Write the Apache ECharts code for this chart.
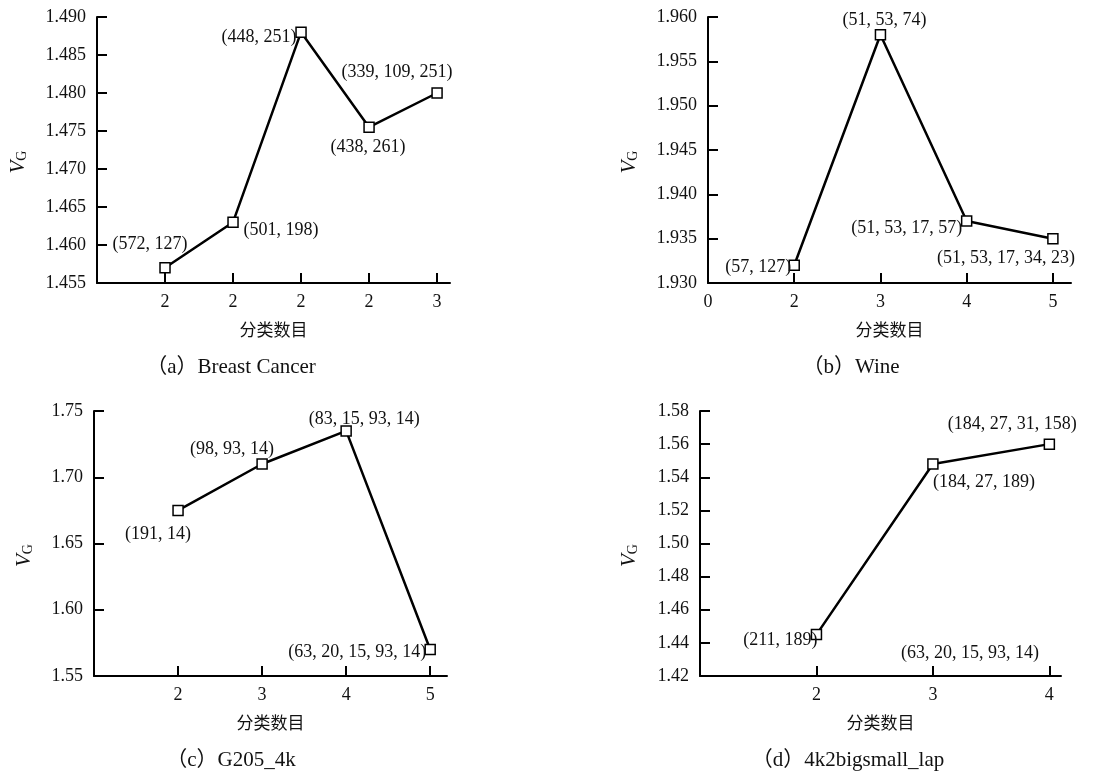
<!DOCTYPE html>
<html>
<head>
<meta charset="utf-8">
<script src="https://cdn.jsdelivr.net/npm/echarts@6/dist/echarts.min.js"></script>
<style>
  html, body { margin: 0; padding: 0; background: #fff; }
  #main { width: 1107px; height: 774px; }
</style>
</head>
<body>
<div id="main"></div>
<script>
// (a) Breast Cancer
var catA = ['2', '2', '2', '2', '3'];
var valA = [1.457, 1.463, 1.488, 1.4755, 1.480];
var lblA = ['(572, 127)', '(501, 198)', '(448, 251)', '(438, 261)', '(339, 109, 251)'];

// (b) Wine  (tick labels on index positions 0..4)
var catB = ['0', '2', '3', '4', '5'];
var valB = [1.932, 1.958, 1.937, 1.935];
var lblB = ['(57, 127)', '(51, 53, 74)', '(51, 53, 17, 57)', '(51, 53, 17, 34, 23)'];

// (c) G205_4k
var xC = [2, 3, 4, 5];
var valC = [1.675, 1.71, 1.735, 1.57];
var lblC = ['(191, 14)', '(98, 93, 14)', '(83, 15, 93, 14)', '(63, 20, 15, 93, 14)'];

// (d) 4k2bigsmall_lap
var xD = [2, 3, 4];
var valD = [1.445, 1.548, 1.56];
var lblD = ['(211, 189)', '(184, 27, 189)', '(184, 27, 31, 158)'];
var strayD = '(63, 20, 15, 93, 14)';

var captions = ['（a）Breast Cancer', '（b）Wine', '（c）G205_4k', '（d）4k2bigsmall_lap'];

// label offsets (pixels, relative to point)
var offA = [[-15, -24], [48, 8], [-42, 5], [-1, 20], [-40, -21]];
var offB = [[-36, 2], [4, -14], [-60, 7], [-47, 20]];
var offC = [[-20, 24], [-30, -15], [18, -12], [-73, 3]];
var offD = [[-36, 6], [51, 18], [-37, -20]];

var SERIF = "'Liberation Serif', 'Times New Roman', serif";
var CJK = "'Noto Sans CJK SC', sans-serif";

var myChart = echarts.init(document.getElementById('main'));

function makeData(xs, ys, labels, offs) {
	return ys.map(function(v, i) {
		return {
			value: [xs[i], v],
			label: { show: true, formatter: labels[i], offset: offs[i] }
		};
	});
}

function idx(n, start) {
	var out = [];
	for (var i = 0; i < n; i++) out.push(start + i);
	return out;
}

var grids = [
	{ left: 97, top: 17, width: 353, height: 266 },
	{ left: 708, top: 17, width: 363, height: 266 },
	{ left: 94, top: 411, width: 353, height: 265 },
	{ left: 700, top: 411, width: 361, height: 265 }
];

function xAxisOf(i, min, max, ticks, fmt) {
	return {
		type: 'value', gridIndex: i, min: min, max: max,
		name: '分类数目', nameLocation: 'middle', nameGap: 38,
		nameTextStyle: { fontFamily: CJK, fontSize: 17, color: '#111' },
		axisLine: { onZero: false, lineStyle: { color: '#000', width: 2 } },
		axisTick: { inside: true, length: 10, customValues: ticks, lineStyle: { color: '#000', width: 2 } },
		axisLabel: { customValues: ticks, formatter: fmt, margin: 10, fontFamily: SERIF, fontSize: 18, color: '#111' },
		splitLine: { show: false }
	};
}

function yAxisOf(i, min, max, interval, dec, gap) {
	return {
		type: 'value', gridIndex: i, min: min, max: max, interval: interval,
		name: '{v|V}{g|G}', nameLocation: 'middle', nameGap: gap, nameRotate: 90,
		nameTextStyle: {
			padding: [0, 24, 0, 0],
			rich: {
				v: { fontFamily: SERIF, fontStyle: 'italic', fontSize: 21, color: '#111' },
				g: { fontFamily: SERIF, fontSize: 14, color: '#111', padding: [8, 0, 0, 0] }
			}
		},
		axisLine: { lineStyle: { color: '#000', width: 2 } },
		axisTick: { inside: true, length: 10, lineStyle: { color: '#000', width: 2 } },
		axisLabel: {
			margin: 11, fontFamily: SERIF, fontSize: 18, color: '#111',
			formatter: function(v) { return v.toFixed(dec); }
		},
		splitLine: { show: false }
	};
}

function lineSeries(i, data) {
	return {
		type: 'line', xAxisIndex: i, yAxisIndex: i, data: data,
		symbol: 'rect', symbolSize: 10,
		lineStyle: { color: '#000', width: 2.5 },
		itemStyle: { color: '#fff', borderColor: '#000', borderWidth: 1.5 },
		label: { position: 'inside', fontFamily: SERIF, fontSize: 18, color: '#111' },
		emphasis: { disabled: true },
		z: 3
	};
}

var captionPos = [[231, 367], [851, 367], [231, 760], [848, 760]];

var option = {
	backgroundColor: '#fff',
	animation: false,
	grid: grids,
	xAxis: [
		xAxisOf(0, 0, 5.19, idx(5, 1), function(v) { return catA[v - 1]; }),
		xAxisOf(1, 0, 4.21, idx(5, 0), function(v) { return catB[v]; }),
		xAxisOf(2, 1, 5.2, xC, function(v) { return String(v); }),
		xAxisOf(3, 1, 4.1, xD, function(v) { return String(v); })
	],
	yAxis: [
		yAxisOf(0, 1.455, 1.490, 0.005, 3, 68),
		yAxisOf(1, 1.930, 1.960, 0.005, 3, 68),
		yAxisOf(2, 1.55, 1.75, 0.05, 2, 59),
		yAxisOf(3, 1.42, 1.58, 0.02, 2, 60)
	],
	series: [
		lineSeries(0, makeData(idx(5, 1), valA, lblA, offA)),
		lineSeries(1, makeData(idx(4, 1), valB, lblB, offB)),
		lineSeries(2, makeData(xC, valC, lblC, offC)),
		lineSeries(3, makeData(xD, valD, lblD, offD))
	],
	graphic: captions.map(function(t, i) {
		return {
			type: 'text', x: captionPos[i][0], y: captionPos[i][1],
			style: { text: t, align: 'center', verticalAlign: 'middle', font: '21px ' + SERIF + ", 'Noto Sans CJK SC'", fill: '#111' }
		};
	}).concat([{
		type: 'text', x: 970, y: 653,
		style: { text: strayD, align: 'center', verticalAlign: 'middle', font: '18px ' + SERIF, fill: '#111' }
	}])
};

myChart.setOption(option);

window.onresize = function() {
	myChart.resize();
};
</script>
</body>
</html>
